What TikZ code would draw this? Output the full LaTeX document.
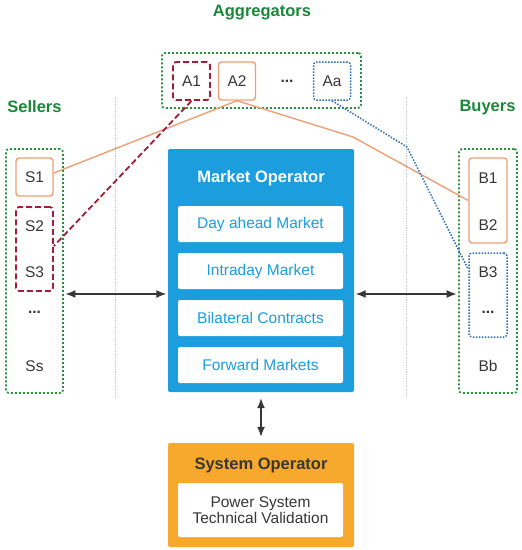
\documentclass[tikz,border=0pt]{standalone}
\usepackage{fontspec}
\setmainfont{Liberation Sans}
\usetikzlibrary{arrows.meta, positioning, calc}
\definecolor{grpgreen}{RGB}{45,145,65}
\definecolor{hdgreen}{RGB}{25,135,55}
\definecolor{mktblue}{RGB}{27,157,222}
\definecolor{sysorange}{RGB}{247,169,45}
\definecolor{lineorange}{RGB}{236,160,118}
\definecolor{aggred}{RGB}{160,30,55}
\definecolor{aggblue}{RGB}{45,110,180}
\definecolor{txtgray}{RGB}{55,55,55}

\begin{document}
\begin{tikzpicture}[x=1pt, y=-1pt,
  >={Latex[length=10pt, width=8pt]},
  every node/.style={font=\fontsize{15.5}{16.5}\selectfont, text=txtgray},
  heading/.style={font=\fontsize{16.5}{20}\selectfont\bfseries, text=hdgreen},
  group/.style={draw=grpgreen, dash pattern=on 2pt off 2pt, line width=1.8pt, rounded corners=3pt, inner sep=0pt},
  member/.style={minimum width=37pt, rounded corners=3pt, line width=1.4pt, inner sep=0pt},
  orangebox/.style={member, draw=lineorange},
  redbox/.style={member, draw=aggred, dash pattern=on 6pt off 3pt, line width=1.8pt},
  bluebox/.style={member, draw=aggblue, dash pattern=on 1.5pt off 1.5pt, line width=1.5pt},
  operator/.style={minimum width=186pt, rounded corners=2pt, inner sep=0pt},
  market/.style={fill=white, minimum width=165pt, minimum height=36pt, rounded corners=2pt, inner sep=0pt, text=mktblue},
  divider/.style={draw=gray!45, densely dotted, line width=0.8pt},
  arrowline/.style={<->, draw=txtgray, line width=1.4pt},
]
  \useasboundingbox (0,0) rectangle (522,550);

  % columns
  \draw[divider] (115,97) -- (115,396);
  \draw[divider] (406,97) -- (406,396);

  % headings
  \node[heading] (haggr) at (262,13) {Aggregators};
  \node[heading] (hsell) at (34.5,107) {Sellers};
  \node[heading] (hbuy) at (487.5,108) {Buyers};

  % aggregators
  \node[group, minimum width=199pt, minimum height=55pt] (ag) at (261.5,80.5) {};
  \node[redbox, minimum height=38pt] (A1) at (191.5,81) {A1};
  \node[orangebox, minimum height=38pt] (A2) at (237,81) {A2};
  \node[font=\fontsize{15.5}{16.5}\selectfont\bfseries] (adots) at (287,81) {...};
  \node[bluebox, minimum height=38pt] (Aa) at (332,81) {Aa};

  % sellers
  \node[group, minimum width=57pt, minimum height=244pt] (sg) at (34.5,271) {};
  \node[orangebox, minimum height=38pt] (S1) at (34.5,177) {S1};
  \node[redbox, minimum height=84pt] (S23) at (34.5,249) {};
  \node (S2) at (34.5,226) {S2};
  \node (S3) at (34.5,272) {S3};
  \node[font=\fontsize{15.5}{16.5}\selectfont\bfseries] (sdots) at (34.5,312) {...};
  \node (Ss) at (34.5,366) {Ss};

  % buyers
  \node[group, minimum width=58pt, minimum height=244pt] (bg) at (488,271) {};
  \node[orangebox, minimum width=38pt, minimum height=85pt] (B12) at (488,200.5) {};
  \node (B1) at (488,178) {B1};
  \node (B2) at (488,225) {B2};
  \node[bluebox, minimum width=38pt, minimum height=84pt] (B3x) at (488,295) {};
  \node (B3) at (488,272) {B3};
  \node[font=\fontsize{15.5}{16.5}\selectfont\bfseries] (bdots) at (488,312) {...};
  \node (Bb) at (488,366) {Bb};

  % market operator
  \node[operator, fill=mktblue, minimum height=243pt] (mo) at (261,270.5) {};
  \node[font=\fontsize{16.5}{20}\selectfont\bfseries, text=white] (motitle) at (261,178) {Market Operator};
  \foreach \y/\name/\lbl in {224/dam/{Day ahead Market}, 271/idm/{Intraday Market}, 318/bil/{Bilateral Contracts}, 365/fwd/{Forward Markets}} {
    \node[market] (\name) at (260.5,\y) {\lbl};
  }

  % system operator
  \node[operator, fill=sysorange, minimum height=104pt] (so) at (261,495) {};
  \node[font=\fontsize{16.5}{20}\selectfont\bfseries] (sotitle) at (261,465) {System Operator};
  \node[market, minimum height=54pt, align=center, text=txtgray] (val) at (260.5,510) {Power System\\Technical Validation};

  % aggregator links
  \coordinate (bendB) at (353,137);
  \coordinate (bendA) at (407,147);
  \draw[lineorange, line width=1.4pt] (A2.south) -- ([yshift=4pt]S1.east);
  \draw[lineorange, line width=1.4pt] (A2.south) -- (bendB) -- (B12.west);
  \draw[aggred, line width=1.8pt, dash pattern=on 6pt off 3pt] (A1.south) -- ([yshift=3pt]S23.east);
  \draw[aggblue, line width=1.5pt, dash pattern=on 1.5pt off 1.5pt] (Aa.south) -- (bendA) -- ($(B3x.north west)!0.2!(B3x.south west)$);

  % exchanges
  \coordinate (arrrow) at (0,294);
  \draw[arrowline, shorten <=1.5pt, shorten >=1.5pt] (sg.east |- arrrow) -- (mo.west |- arrrow);
  \draw[arrowline, shorten <=1.5pt, shorten >=1.5pt] (mo.east |- arrrow) -- (bg.west |- arrrow);
  \draw[arrowline, shorten <=6pt, shorten >=6pt] (mo.south) -- (so.north);
\end{tikzpicture}
\end{document}
